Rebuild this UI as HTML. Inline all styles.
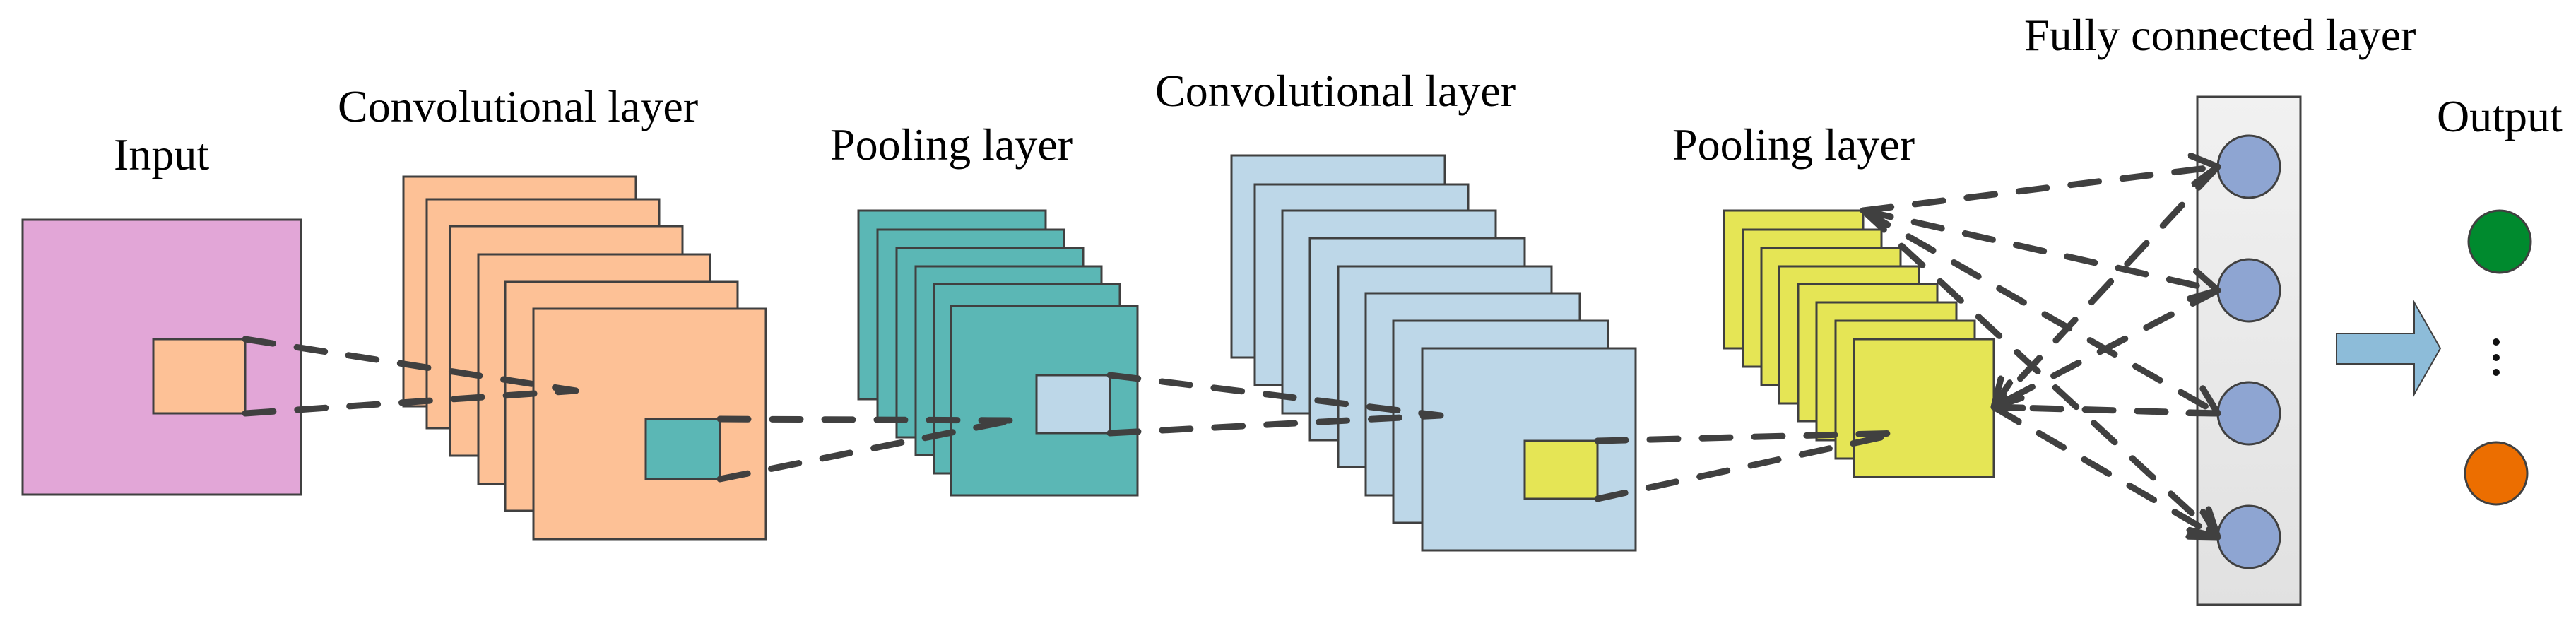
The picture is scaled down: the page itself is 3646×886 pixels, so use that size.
<!DOCTYPE html>
<html><head><meta charset="utf-8"><style>
html,body{margin:0;padding:0;background:#fff;width:3646px;height:886px;overflow:hidden}
svg{display:block}
text{font-family:"Liberation Serif","Times New Roman",serif;fill:#000}
</style></head><body>
<svg width="3646" height="886" viewBox="0 0 3646 886" xmlns="http://www.w3.org/2000/svg">
<defs>
<linearGradient id="fc" x1="0" y1="0" x2="0" y2="1"><stop offset="0" stop-color="#f1f1f1"/><stop offset="1" stop-color="#e1e1e1"/></linearGradient>
<marker id="ah" markerUnits="userSpaceOnUse" viewBox="-40 -25 45 50" refX="0" refY="0" markerWidth="45" markerHeight="50" orient="auto">
<path d="M-36,-20 L0,0 L-36,20" fill="none" stroke="#404040" stroke-width="9" stroke-linecap="round" stroke-linejoin="round"/>
</marker>
</defs>
<g font-size="64">
<text x="161" y="240">Input</text>
<text x="478" y="172">Convolutional layer</text>
<text x="1175" y="226">Pooling layer</text>
<text x="1635" y="150">Convolutional layer</text>
<text x="2367" y="226">Pooling layer</text>
<text x="2865" y="71">Fully connected layer</text>
<text x="3449" y="186">Output</text>
</g>
<g stroke="#404040" stroke-width="3">
<rect x="32" y="311" width="394" height="389" fill="#E2A6D7"/>
<rect x="217" y="480" width="130" height="105" fill="#FDC196"/>
<g fill="#FDC196">
<rect x="571" y="250" width="329" height="325"/>
<rect x="604" y="282" width="329" height="324"/>
<rect x="637" y="320" width="329" height="325"/>
<rect x="677" y="360" width="328" height="325"/>
<rect x="715" y="399" width="329" height="324"/>
<rect x="755" y="437" width="329" height="326"/>
</g>
<rect x="914" y="593" width="105" height="85" fill="#5BB7B5"/>
<g fill="#5BB7B5">
<rect x="1215" y="298" width="265" height="267"/>
<rect x="1242" y="325" width="264" height="268"/>
<rect x="1269" y="351" width="264" height="268"/>
<rect x="1296" y="377" width="263" height="267"/>
<rect x="1322" y="402" width="263" height="268"/>
<rect x="1346" y="433" width="264" height="268"/>
</g>
<rect x="1467" y="531" width="104" height="82" fill="#BDD7E8"/>
<g fill="#BDD7E8">
<rect x="1743" y="220" width="302" height="286"/>
<rect x="1776" y="261" width="302" height="284"/>
<rect x="1815" y="298" width="302" height="287"/>
<rect x="1854" y="337" width="304" height="286"/>
<rect x="1894" y="377" width="302" height="284"/>
<rect x="1933" y="415" width="303" height="286"/>
<rect x="1972" y="454" width="304" height="286"/>
<rect x="2013" y="493" width="302" height="286"/>
</g>
<rect x="2158" y="624" width="103" height="82" fill="#E5E555"/>
<g fill="#E5E555">
<rect x="2440" y="298" width="197" height="195"/>
<rect x="2467" y="325" width="196" height="194"/>
<rect x="2493" y="351" width="197" height="194"/>
<rect x="2518" y="377" width="198" height="194"/>
<rect x="2545" y="402" width="197" height="194"/>
<rect x="2571" y="428" width="198" height="195"/>
<rect x="2598" y="454" width="197" height="195"/>
<rect x="2624" y="480" width="198" height="195"/>
</g>
<rect x="3110" y="137" width="146" height="719" fill="url(#fc)"/>
<g fill="#8EA5D2">
<ellipse cx="3183" cy="236" rx="44" ry="44"/>
<ellipse cx="3183" cy="411" rx="44" ry="44"/>
<ellipse cx="3183" cy="585" rx="44" ry="44"/>
<ellipse cx="3183" cy="760" rx="44" ry="44"/>
</g>
<ellipse cx="3538" cy="342" rx="44" ry="44" fill="#008A2E"/>
<ellipse cx="3533" cy="670" rx="44" ry="44" fill="#EC6E00"/>
<path d="M3307,472 H3417 V428 L3454,493 L3417,558 V515 H3307 Z" fill="#8DBCD9" stroke-width="2"/>
</g>
<g fill="#111"><circle cx="3533" cy="484" r="5"/><circle cx="3533" cy="506" r="5"/><circle cx="3533" cy="527" r="5"/></g>
<g stroke="#404040" stroke-width="9" stroke-linecap="round" stroke-dasharray="40 34" fill="none">
<line x1="347" y1="480" x2="815" y2="553"/>
<line x1="347" y1="585" x2="815" y2="553"/>
<line x1="1019" y1="593" x2="1432" y2="595"/>
<line x1="1019" y1="678" x2="1432" y2="595"/>
<line x1="1571" y1="531" x2="2039" y2="588"/>
<line x1="1571" y1="613" x2="2039" y2="588"/>
<line x1="2261" y1="624" x2="2690" y2="613"/>
<line x1="2261" y1="706" x2="2690" y2="613"/>
<g marker-end="url(#ah)">
<line x1="2637" y1="298" x2="3139" y2="236"/>
<line x1="2637" y1="298" x2="3139" y2="411"/>
<line x1="2637" y1="298" x2="3139" y2="585"/>
<line x1="2637" y1="298" x2="3139" y2="760"/>
<line x1="2822" y1="576" x2="3139" y2="760"/>
<line x1="3139" y1="236" x2="2822" y2="576"/>
<line x1="3139" y1="411" x2="2822" y2="576"/>
<line x1="3139" y1="585" x2="2822" y2="576"/>
</g>
</g>
</svg>
</body></html>
